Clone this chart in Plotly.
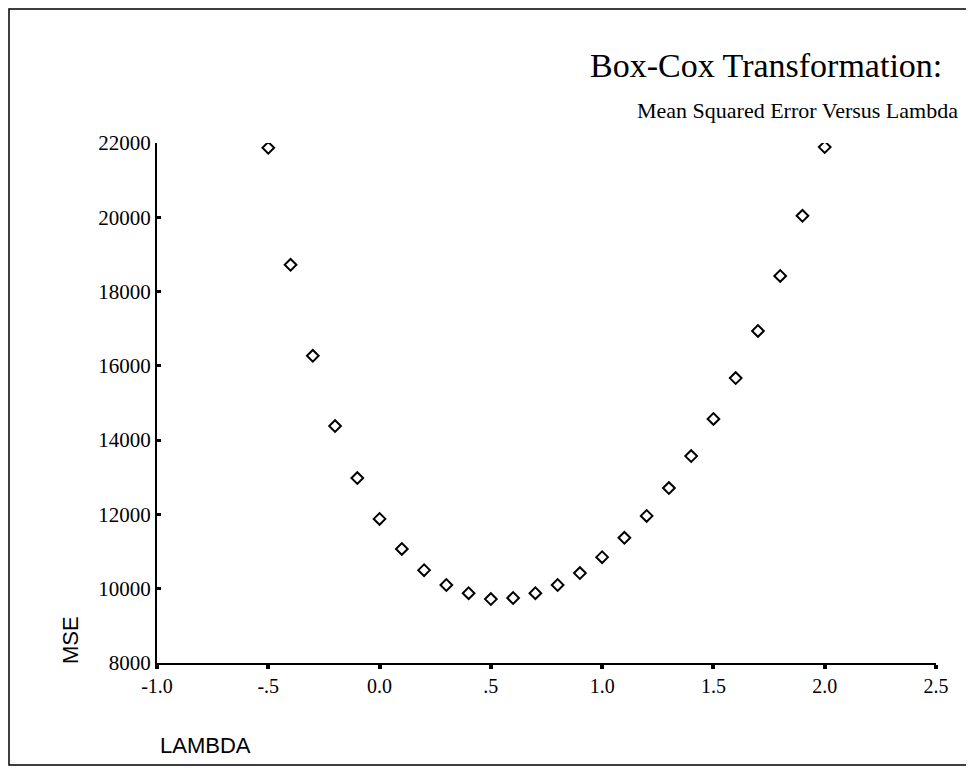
import plotly.graph_objects as go

# Box-Cox lambda values and the mean squared error at each
lambdas = [-0.5, -0.4, -0.3, -0.2, -0.1, 0.0, 0.1, 0.2, 0.3, 0.4, 0.5, 0.6, 0.7,
           0.8, 0.9, 1.0, 1.1, 1.2, 1.3, 1.4, 1.5, 1.6, 1.7, 1.8, 1.9, 2.0]
mse = [21870, 18720, 16270, 14380, 12980, 11880, 11070, 10500, 10100, 9880, 9720,
       9750, 9880, 10100, 10420, 10850, 11370, 11960, 12710, 13570, 14570, 15670,
       16940, 18420, 20040, 21890]

x_ticks = [-1.0, -0.5, 0.0, 0.5, 1.0, 1.5, 2.0, 2.5]
x_labels = ["-1.0", "-.5", "0.0", ".5", "1.0", "1.5", "2.0", "2.5"]
y_ticks = [8000, 10000, 12000, 14000, 16000, 18000, 20000, 22000]
y_labels = [str(v) for v in y_ticks]

SERIF = "Liberation Serif"
SANS = "Liberation Sans"

fig = go.Figure(go.Scatter(
    x=lambdas, y=mse, mode="markers",
    marker=dict(symbol="diamond-open", size=9, color="black",
                line=dict(color="black", width=2)),
    showlegend=False,
))

# the page body has an 8px margin, so work in window pixels and shift
OFF = 8
W, H = 974 - OFF, 772 - OFF
L, R, T, B = 157 - OFF, 38, 143 - OFF, 109
pw, ph = W - L - R, H - T - B


def px_x(p):
    return (p - OFF - L) / pw


def px_y(p):
    return (H - B - (p - OFF)) / ph


fig.update_layout(
    width=W, height=H, autosize=False,
    margin=dict(l=L, r=R, t=T, b=B, pad=0),
    paper_bgcolor="white", plot_bgcolor="white",
    xaxis=dict(
        range=[-1.0, 2.5], tickvals=x_ticks, ticktext=x_labels,
        showgrid=False, zeroline=False, showline=True, linecolor="black", linewidth=2,
        ticks="outside", ticklen=4, tickwidth=4, tickcolor="black",
        tickfont=dict(family=SERIF, size=20, color="black"),
    ),
    yaxis=dict(
        range=[8000, 22000], tickvals=y_ticks, ticktext=y_labels,
        showgrid=False, zeroline=False, showline=True, linecolor="black", linewidth=2,
        ticks="inside", ticklen=4, tickwidth=3, tickcolor="black",
        tickfont=dict(family=SERIF, size=21, color="black"),
    ),
    shapes=[dict(
        type="rect", xref="paper", yref="paper",
        x0=px_x(9), x1=px_x(970), y0=px_y(765), y1=px_y(9),
        line=dict(color="black", width=1.5),
    )],
    annotations=[
        dict(text="Box-Cox Transformation:", xref="paper", yref="paper",
             x=px_x(944), y=px_y(65), xanchor="right", yanchor="middle",
             showarrow=False, font=dict(family=SERIF, size=34, color="black")),
        dict(text="Mean Squared Error Versus Lambda", xref="paper", yref="paper",
             x=px_x(960), y=px_y(110), xanchor="right", yanchor="middle",
             showarrow=False, font=dict(family=SERIF, size=22, color="black")),
        dict(text="MSE", xref="paper", yref="paper", textangle=-90,
             x=px_x(70), y=px_y(640), xanchor="center", yanchor="middle",
             showarrow=False, font=dict(family=SANS, size=22, color="black")),
        dict(text="LAMBDA", xref="paper", yref="paper",
             x=px_x(158), y=px_y(746), xanchor="left", yanchor="middle",
             showarrow=False, font=dict(family=SANS, size=22, color="black")),
    ],
)

fig.write_html("out.html")
